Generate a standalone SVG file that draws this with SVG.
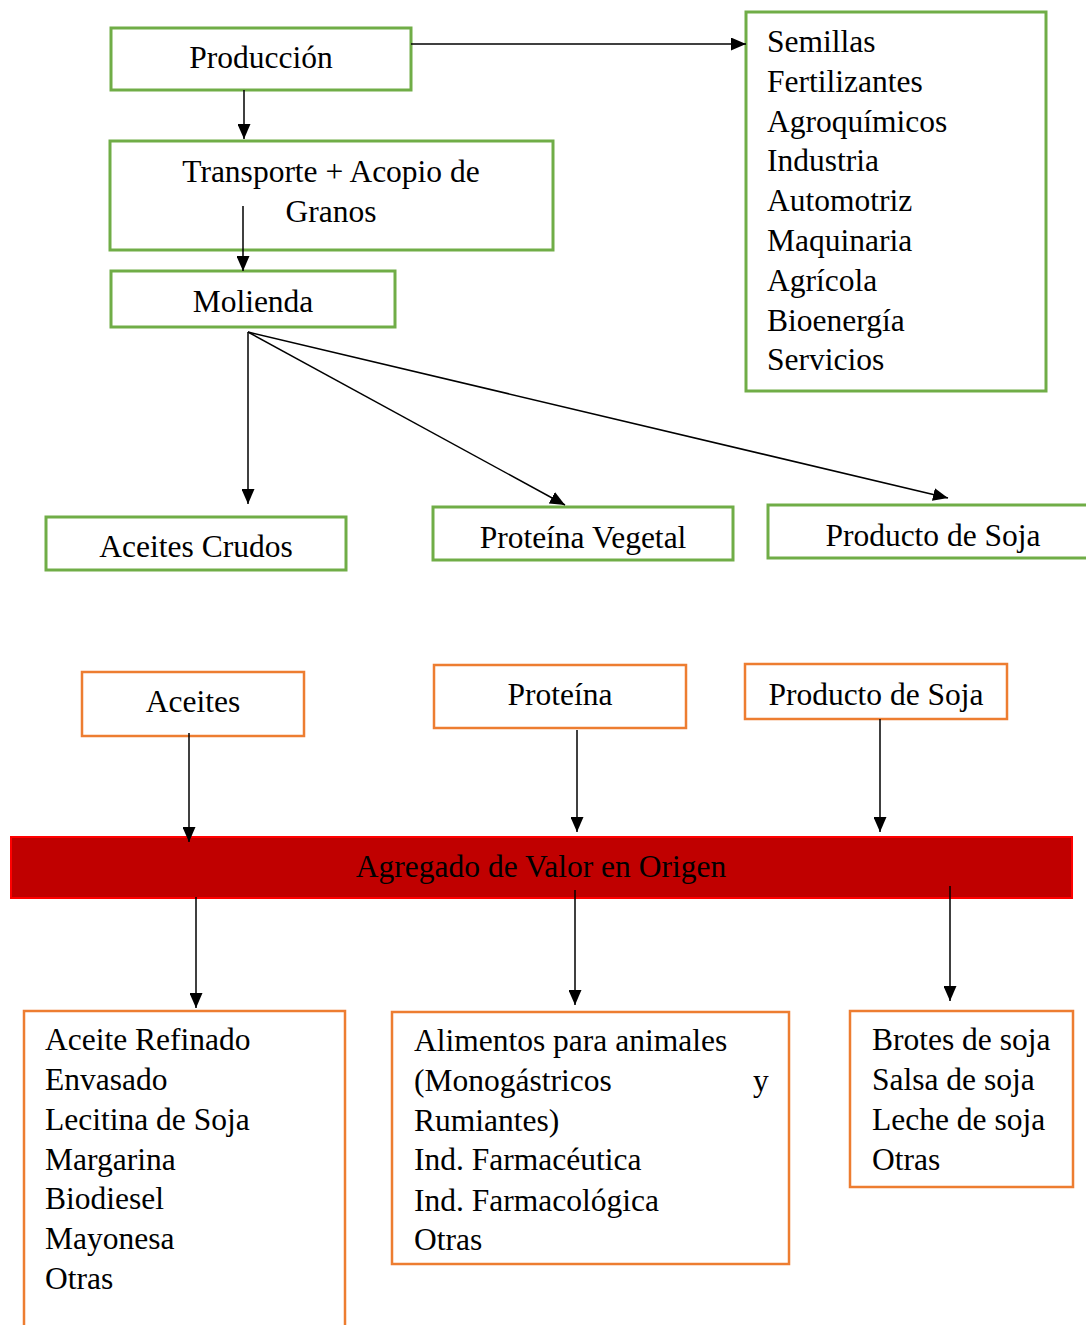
<svg xmlns="http://www.w3.org/2000/svg" width="1086" height="1325" viewBox="0 0 1086 1325">
<defs>
<marker id="ah" markerWidth="15" markerHeight="13" refX="15" refY="6.5" orient="auto" markerUnits="userSpaceOnUse">
<path d="M0,0 L15,6.5 L0,13 Z" fill="#000"/>
</marker>
<clipPath id="cpv"><rect x="433" y="507" width="300" height="51"/></clipPath>
<clipPath id="cps"><rect x="768" y="505" width="320" height="51"/></clipPath>
<style>
.g{fill:#fff;stroke:#70AD47;stroke-width:3}
.o{fill:#fff;stroke:#ED7D31;stroke-width:2.5}
.t{font-family:"Liberation Serif","Times New Roman",serif;font-size:31.5px;fill:#000}
.c{text-anchor:middle}
.ln{stroke:#000;stroke-width:1.5;fill:none;marker-end:url(#ah)}
</style>
</defs>
<rect width="1086" height="1325" fill="#fff"/>
<g id="produccion"><rect class="g" x="111" y="28" width="300" height="62"/><text class="t c" x="261" y="68">Producción</text></g>
<g id="transporte"><rect class="g" x="110" y="141" width="443" height="109"/><text class="t c" x="331" y="182">Transporte + Acopio de</text><text class="t c" x="331" y="222">Granos</text></g>
<g id="molienda"><rect class="g" x="111" y="271" width="284" height="56"/><text class="t c" x="253" y="312">Molienda</text></g>
<g id="insumos"><rect class="g" x="746" y="12" width="300" height="379"/>
<text class="t" x="767" y="52">Semillas</text>
<text class="t" x="767" y="92">Fertilizantes</text>
<text class="t" x="767" y="132">Agroquímicos</text>
<text class="t" x="767" y="171">Industria</text>
<text class="t" x="767" y="211">Automotriz</text>
<text class="t" x="767" y="251">Maquinaria</text>
<text class="t" x="767" y="291">Agrícola</text>
<text class="t" x="767" y="331">Bioenergía</text>
<text class="t" x="767" y="370">Servicios</text></g>
<g id="aceites-crudos"><rect class="g" x="46" y="517" width="300" height="53"/><text class="t c" x="196" y="557">Aceites Crudos</text></g>
<g id="proteina-vegetal"><rect class="g" x="433" y="507" width="300" height="53"/><text class="t c" x="583" y="548" clip-path="url(#cpv)">Proteína Vegetal</text></g>
<g id="producto-soja-1"><rect class="g" x="768" y="505" width="320" height="53"/><text class="t c" x="933" y="546" clip-path="url(#cps)">Producto de Soja</text></g>
<g id="aceites"><rect class="o" x="82" y="672" width="222" height="64"/><text class="t c" x="193" y="712">Aceites</text></g>
<g id="proteina"><rect class="o" x="434" y="665" width="252" height="63"/><text class="t c" x="560" y="705">Proteína</text></g>
<g id="producto-soja-2"><rect class="o" x="745" y="664" width="262" height="55"/><text class="t c" x="876" y="705">Producto de Soja</text></g>
<g id="agregado"><rect x="11" y="837" width="1061" height="61" fill="#C00000" stroke="#FF0000" stroke-width="2"/><text class="t c" x="541" y="877">Agregado de Valor en Origen</text></g>
<g id="aceite-productos"><rect class="o" x="24" y="1011" width="321" height="330"/>
<text class="t" x="45" y="1050">Aceite Refinado</text>
<text class="t" x="45" y="1090">Envasado</text>
<text class="t" x="45" y="1130">Lecitina de Soja</text>
<text class="t" x="45" y="1170">Margarina</text>
<text class="t" x="45" y="1209">Biodiesel</text>
<text class="t" x="45" y="1249">Mayonesa</text>
<text class="t" x="45" y="1289">Otras</text></g>
<g id="proteina-productos"><rect class="o" x="392" y="1012" width="397" height="252"/>
<text class="t" x="414" y="1051">Alimentos para animales</text>
<text class="t" x="414" y="1091">(Monogástricos</text>
<text class="t" x="753" y="1091">y</text>
<text class="t" x="414" y="1131">Rumiantes)</text>
<text class="t" x="414" y="1170">Ind. Farmacéutica</text>
<text class="t" x="414" y="1211">Ind. Farmacológica</text>
<text class="t" x="414" y="1250">Otras</text></g>
<g id="soja-productos"><rect class="o" x="850" y="1011" width="223" height="176"/>
<text class="t" x="872" y="1050">Brotes de soja</text>
<text class="t" x="872" y="1090">Salsa de soja</text>
<text class="t" x="872" y="1130">Leche de soja</text>
<text class="t" x="872" y="1170">Otras</text></g>
<g id="connectors">
<line class="ln" x1="411" y1="44" x2="746" y2="44"/>
<line class="ln" x1="244" y1="90" x2="244" y2="139"/>
<line class="ln" x1="243" y1="206" x2="243" y2="271"/>
<line class="ln" x1="248" y1="332" x2="248" y2="504"/>
<line class="ln" x1="248" y1="332" x2="565" y2="505"/>
<line class="ln" x1="248" y1="332" x2="948" y2="498"/>
<line class="ln" x1="189" y1="733" x2="189" y2="842"/>
<line class="ln" x1="577" y1="730" x2="577" y2="832"/>
<line class="ln" x1="880" y1="719" x2="880" y2="832"/>
<line class="ln" x1="196" y1="897" x2="196" y2="1008"/>
<line class="ln" x1="575" y1="890" x2="575" y2="1005"/>
<line class="ln" x1="950" y1="886" x2="950" y2="1001"/>
</g>
</svg>
